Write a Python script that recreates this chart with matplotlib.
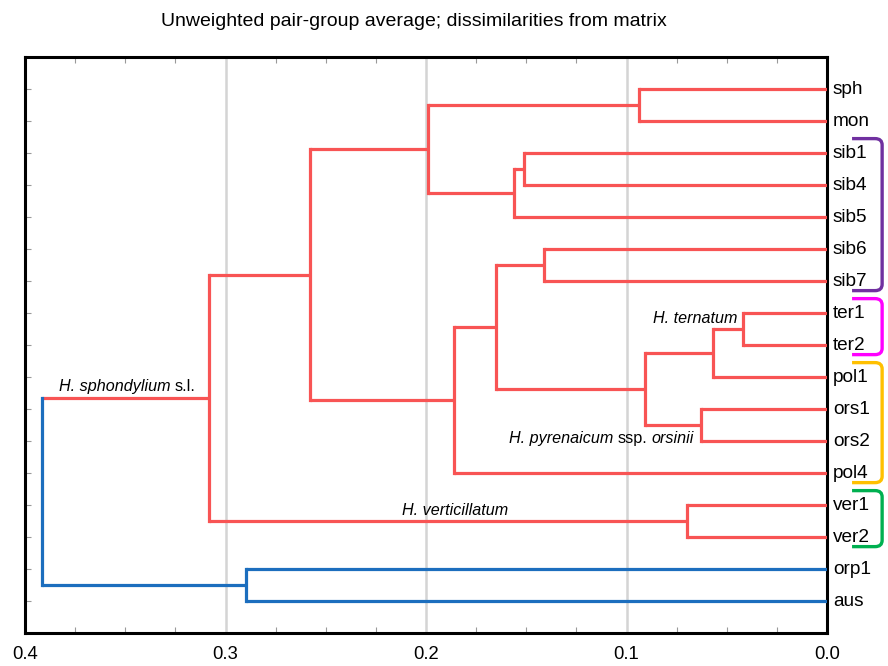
import matplotlib
matplotlib.use("Agg")
import matplotlib.pyplot as plt
from matplotlib.patches import PathPatch
from matplotlib.path import Path
from matplotlib.ticker import MultipleLocator
from matplotlib.transforms import offset_copy

plt.rcParams["font.family"] = ["Liberation Sans", "DejaVu Sans"]

RED = "#F85454"
BLUE = "#1C6EBE"

# leaves, top to bottom
leaves = ["sph", "mon", "sib1", "sib4", "sib5", "sib6", "sib7", "ter1", "ter2",
          "pol1", "ors1", "ors2", "pol4", "ver1", "ver2", "orp1", "aus"]

# UPGMA merges: (name, left child, right child, dissimilarity)
merge_names = ["A", "B", "C", "D", "E", "F", "G", "H", "I", "J", "K", "L", "M", "N", "O", "root"]
merge_left = ["sph", "sib1", "B", "A", "sib6", "ter1", "F", "ors1", "G", "E", "J", "D", "ver1", "L", "orp1", "N"]
merge_right = ["mon", "sib4", "sib5", "C", "sib7", "ter2", "pol1", "ors2", "H", "I", "pol4", "K", "ver2", "M", "aus", "O"]
merge_height = [0.094, 0.151, 0.156, 0.199, 0.141, 0.042, 0.057, 0.063, 0.091,
                0.165, 0.186, 0.258, 0.070, 0.308, 0.290, 0.3915]

blue_nodes = ["orp1", "aus", "O", "root"]

# coloured groups at the right edge
group_first = ["sib1", "ter1", "pol1", "ver1"]
group_last = ["sib7", "ter2", "pol4", "ver2"]
group_color = ["#7030A0", "#FF00FF", "#FFC000", "#00B050"]

fig = plt.figure(figsize=(8.88, 6.66), dpi=100)
ax = fig.add_axes([0.0282, 0.0495, 0.9031, 0.8649])

pos = {name: (0.0, i + 1) for i, name in enumerate(leaves)}
lw = 2.3


def color_of(name):
    return BLUE if name in blue_nodes else RED


for name, l, r, h in zip(merge_names, merge_left, merge_right, merge_height):
    xl, yl = pos[l]
    xr, yr = pos[r]
    ax.plot([h, xl], [yl, yl], color=color_of(l), lw=lw, solid_capstyle="butt", zorder=3)
    ax.plot([h, xr], [yr, yr], color=color_of(r), lw=lw, solid_capstyle="butt", zorder=3)
    ax.plot([h, h], [yl, yr], color=color_of(name), lw=lw, solid_capstyle="projecting", zorder=4)
    pos[name] = (h, (yl + yr) / 2)

ax.set_xlim(0.4, 0.0)
ax.set_ylim(18, 0)

ax.xaxis.set_minor_locator(MultipleLocator(0.025))
ax.set_xticks([0.4, 0.3, 0.2, 0.1, 0.0])
ax.set_xticklabels(["0.4", "0.3", "0.2", "0.1", "0.0"], fontsize=13.3)
ax.set_yticks(range(1, len(leaves) + 1))
ax.set_yticklabels([])
ax.tick_params(axis="x", which="both", direction="in", top=True, bottom=True,
               length=4, width=0.8, color="#999999", pad=9)
ax.tick_params(axis="x", which="major", length=0)
ax.tick_params(axis="y", direction="in", left=True, right=False, length=4,
               width=0.8, color="#999999")
ax.grid(axis="x", which="major", color="#D4D4D4", lw=1.8, zorder=0)
for s in ax.spines.values():
    s.set_linewidth(2.2)
    s.set_color("black")

for i, name in enumerate(leaves):
    ax.text(-0.003, i + 1, name, fontsize=13.7, ha="left", va="center", clip_on=False)

# rounded brackets around the sampled groups
xa, xb, rx, ry = -0.0125, -0.0275, 0.0035, 0.2
for first, last, c in zip(group_first, group_last, group_color):
    y0 = leaves.index(first) + 1 - 0.45
    y1 = leaves.index(last) + 1 + 0.3
    verts = [(xa, y0), (xb + rx, y0), (xb, y0), (xb, y0 + ry),
             (xb, y1 - ry), (xb, y1), (xb + rx, y1), (xa, y1)]
    codes = [Path.MOVETO, Path.LINETO, Path.CURVE3, Path.CURVE3,
             Path.LINETO, Path.CURVE3, Path.CURVE3, Path.LINETO]
    ax.add_patch(PathPatch(Path(verts, codes), fill=False, edgecolor=c, lw=2.4,
                           capstyle="butt", clip_on=False))

renderer = fig.canvas.get_renderer()


def mixed_label(x, y, parts, align="left", size=11.6, gap=4):
    """Write pieces of text side by side, each with its own font style."""
    widths = []
    for s, style in parts:
        t = ax.text(0, 0, s, fontsize=size, style=style)
        widths.append(t.get_window_extent(renderer).width)
        t.remove()
    shift = -(sum(widths) + gap * (len(parts) - 1)) if align == "right" else 0.0
    for (s, style), w in zip(parts, widths):
        tr = offset_copy(ax.transData, fig=fig, x=shift / fig.dpi, y=0, units="inches")
        ax.text(x, y, s, fontsize=size, style=style, ha="left", va="baseline", transform=tr)
        shift += w + gap


mixed_label(0.383, 10.45, [("H. sphondylium", "italic"), ("s.l.", "normal")])
mixed_label(0.0445, 8.3, [("H. ternatum", "italic")], align="right")
mixed_label(0.0665, 12.06, [("H. pyrenaicum", "italic"), ("ssp.", "normal"),
                            ("orsinii", "italic")], align="right")
mixed_label(0.212, 14.31, [("H. verticillatum", "italic")])

fig.text(414 / 888, 1 - 26.5 / 666, "Unweighted pair-group average; dissimilarities from matrix",
         fontsize=14.0, ha="center", va="baseline")

fig.savefig("out.png", dpi=100)
